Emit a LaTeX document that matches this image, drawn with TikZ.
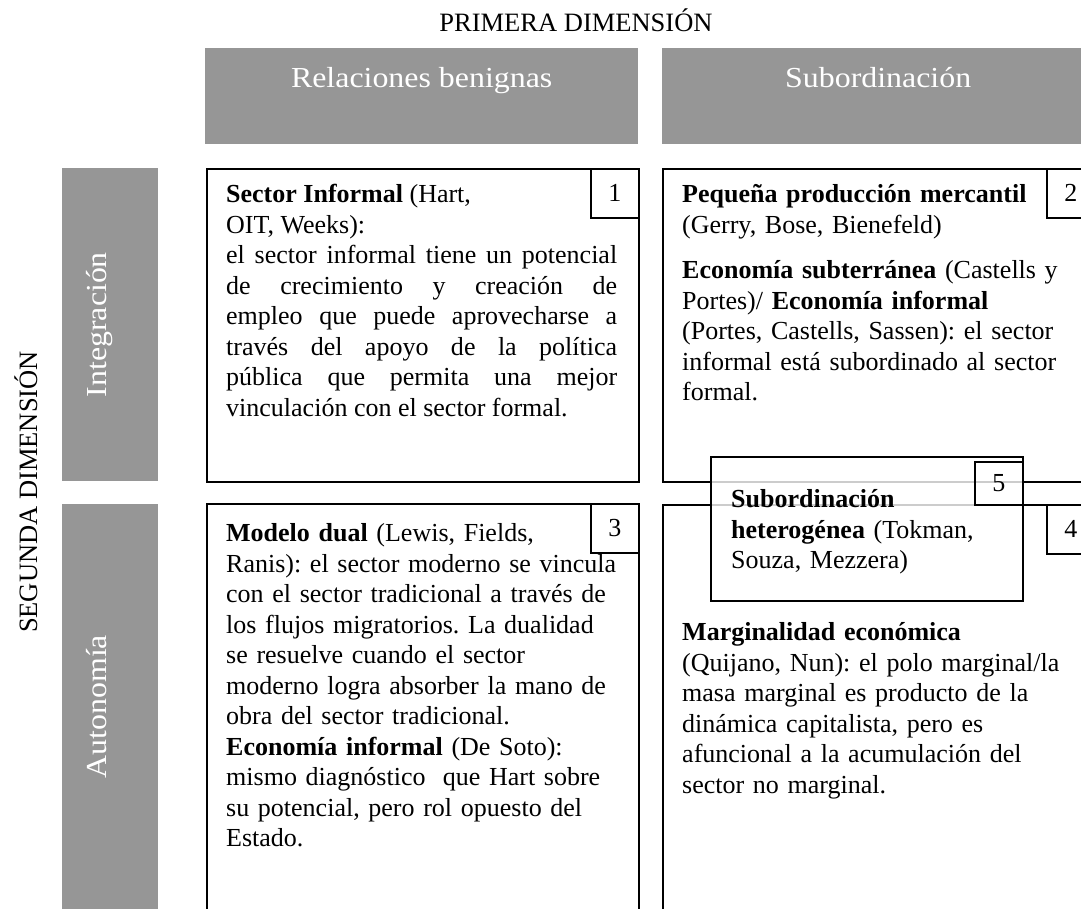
\documentclass[tikz,border=0pt]{standalone}
\usepackage{fontspec}
\setmainfont{Liberation Serif}
\usetikzlibrary{positioning}
\definecolor{hdrgray}{RGB}{150,150,150}
\newcommand{\wide}[1]{\scalebox{1.1}[1]{#1}}
\frenchspacing
\hyphenpenalty=10000

\begin{document}
\begin{tikzpicture}[x=1pt, y=-1pt,
  hdr/.style={fill=hdrgray, inner sep=0pt, anchor=north west},
  hdrtext/.style={text=white, font=\fontsize{29}{33}\selectfont, inner sep=0pt, anchor=base},
  cell/.style={draw, line width=1.6pt, inner sep=0pt, anchor=north west, minimum width=432pt},
  numbox/.style={draw, line width=1.6pt, inner sep=0pt, minimum width=48pt, minimum height=49pt, anchor=north east, font=\fontsize{26}{31}\selectfont},
  body/.style={font=\fontsize{26}{30.5}\selectfont, inner sep=0pt, anchor=north west, text width=420pt, align=left}]

\useasboundingbox (0,0) rectangle (1081,909);
\clip (0,0) rectangle (1081,909);

\node[font=\fontsize{26.5}{31}\selectfont, inner sep=0pt, anchor=base] (dim1) at (576,32) {PRIMERA DIMENSIÓN};
\node[font=\fontsize{26.5}{31}\selectfont, inner sep=0pt, anchor=base, rotate=90] (dim2) at (37,492) {SEGUNDA DIMENSIÓN};

% grey headings
\node[hdr, minimum width=433pt, minimum height=96pt] (benign) at (205,48) {};
\node[hdr, minimum width=432pt, minimum height=96pt] (subord) at (662,48) {};
\node[hdr, minimum width=96pt, minimum height=313pt] (integ) at (62,168) {};
\node[hdr, minimum width=96pt, minimum height=405pt] (auton) at (62,504) {};

\node[hdrtext] (benigntxt) at ([yshift=-40pt]benign.north) {\wide{Relaciones benignas}};
\node[hdrtext] (subordtxt) at ([yshift=-40pt]subord.north) {\wide{Subordinación}};
\node[hdrtext, rotate=90] (integtxt) at ([xshift=44pt]integ.west) {\wide{Integración}};
\node[hdrtext, rotate=90] (autontxt) at ([xshift=44pt]auton.west) {\wide{Autonomía}};

% cells
\node[cell, minimum height=313pt] (c1) at (206,168) {};
\node[cell, minimum height=313pt] (c2) at (662,168) {};
\node[cell, minimum height=410pt] (c3) at (206,503) {};
\node[cell, minimum height=410pt] (c4) at (662,504) {};

\node[numbox] (n1) at (c1.north east) {1};
\node[numbox] (n2) at (c2.north east) {2};
\node[numbox] (n3) at (c3.north east) {3};
\node[numbox] (n4) at (c4.north east) {4};

\node[cell, minimum width=312pt, minimum height=144pt, fill=white, fill opacity=0.8] (c5) at (710,456) {};
\node[numbox, minimum height=43pt] (n5) at ([yshift=-5pt]c5.north east) {5};

\node[body, text width=391pt, align=justify] (t1) at ([xshift=20pt, yshift=-13pt]c1.north west)
  {\strut\textbf{Sector Informal} (Hart,\\ OIT, Weeks):\\ el sector informal tiene un potencial\linebreak
   de crecimiento y creación de\linebreak empleo que puede aprovecharse a\linebreak
   través del apoyo de la política\linebreak pública que permita una mejor\linebreak
   vinculación con el sector formal.};
\node[body] (t2) at ([xshift=20pt, yshift=-13pt]c2.north west)
  {\strut\textbf{Pequeña producción mercantil}\\ (Gerry, Bose, Bienefeld)\\[15pt]
   \textbf{Economía subterránea} (Castells y\\ Portes)/ \textbf{Economía informal}\\
   (Portes, Castells, Sassen): el sector\\ informal está subordinado al sector\\ formal.};
\node[body] (t3) at ([xshift=20pt, yshift=-17pt]c3.north west)
  {\strut\textbf{Modelo dual} (Lewis, Fields,\\ Ranis): el sector moderno se vincula\\
   con el sector tradicional a través de\\ los flujos migratorios. La dualidad\\
   se resuelve cuando el sector\\ moderno logra absorber la mano de\\
   obra del sector tradicional.\\ \textbf{Economía informal} (De Soto):\\
   mismo diagnóstico\ \ que Hart sobre\\ su potencial, pero rol opuesto del\\ Estado.};
\node[body] (t4) at ([xshift=20pt, yshift=-115pt]c4.north west)
  {\strut\textbf{Marginalidad económica}\\ (Quijano, Nun): el polo marginal/la\\
   masa marginal es producto de la\\ dinámica capitalista, pero es\\
   afuncional a la acumulación del\\ sector no marginal.};
\node[body, text width=280pt] (t5) at ([xshift=21pt, yshift=-30pt]c5.north west)
  {\strut\textbf{Subordinación}\\ \textbf{heterogénea} (Tokman,\\ Souza, Mezzera)};

\end{tikzpicture}
\end{document}
